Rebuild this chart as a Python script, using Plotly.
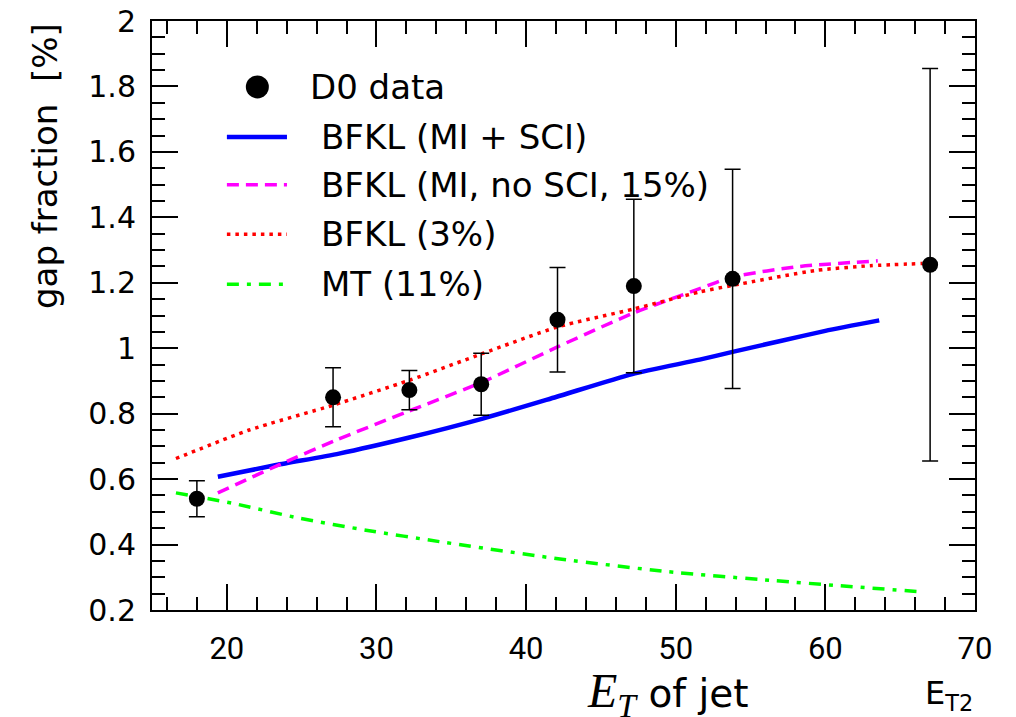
import plotly.graph_objects as go

# D0 data points: jet E_T, gap fraction [%], error
et_data = [18.0, 27.1, 32.2, 37.0, 42.1, 47.2, 53.8, 67.0]
gap_data = [0.54, 0.85, 0.872, 0.89, 1.087, 1.19, 1.212, 1.255]
gap_err = [0.055, 0.09, 0.06, 0.095, 0.16, 0.265, 0.335, 0.60]

# BFKL (MI + SCI)
bfkl_sci_x = [19.4, 23.3, 27.5, 32.2, 37.1, 42.0, 47.1, 51.6, 53.8, 57.0, 60.0, 63.6]
bfkl_sci_y = [0.607, 0.643, 0.678, 0.727, 0.785, 0.851, 0.921, 0.965, 0.989, 1.022, 1.053, 1.085]

# BFKL (MI, no SCI, 15%)
bfkl_nosci_x = [19.4, 23.7, 27.3, 32.0, 37.1, 42.1, 47.2, 51.6, 53.8, 58.3, 63.5]
bfkl_nosci_y = [0.558, 0.648, 0.719, 0.805, 0.897, 1.004, 1.108, 1.182, 1.218, 1.25, 1.267]

# BFKL (3%)
bfkl3_x = [16.6, 21.5, 27.1, 32.2, 37.1, 42.1, 47.2, 51.6, 53.8, 59.4, 63.0, 66.5]
bfkl3_y = [0.663, 0.75, 0.826, 0.902, 0.984, 1.065, 1.12, 1.172, 1.192, 1.238, 1.252, 1.259]

# MT (11%)
mt_x = [16.6, 20.4, 24.9, 29.3, 34.2, 42.4, 49.5, 56.5, 61.0, 66.3]
mt_y = [0.558, 0.526, 0.48, 0.444, 0.409, 0.355, 0.317, 0.29, 0.274, 0.256]

legend_labels = ["D0 data", "BFKL (MI + SCI)", "BFKL (MI, no SCI, 15%)", "BFKL (3%)", "MT (11%)"]

FONT = "DejaVu Sans"

blue = dict(color="#0000ff", width=4.5)
magenta = dict(color="#ff00ff", width=3.5, dash="12px,7px")
red = dict(color="#ff0000", width=3.5, dash="3.5px,5px")
green = dict(color="#00ff00", width=3.5, dash="12px,8px,4px,8px")

fig = go.Figure()

for xs, ys, ln in [(bfkl_sci_x, bfkl_sci_y, blue), (bfkl_nosci_x, bfkl_nosci_y, magenta),
                   (bfkl3_x, bfkl3_y, red), (mt_x, mt_y, green)]:
    fig.add_trace(go.Scatter(x=xs, y=ys, mode="lines", line=dict(shape="spline", smoothing=0.6, **ln),
                             showlegend=False, hoverinfo="skip"))

fig.add_trace(go.Scatter(
    x=et_data, y=gap_data, mode="markers",
    marker=dict(color="black", size=16),
    error_y=dict(type="data", array=gap_err, color="black", thickness=1.5, width=8),
    showlegend=False))

# hand-made legend on an overlaid unit axis
leg_rows = [0.888, 0.803, 0.722, 0.638, 0.553]
fig.add_trace(go.Scatter(x=[0.128], y=[leg_rows[0]], mode="markers", marker=dict(color="black", size=23),
                         xaxis="x2", yaxis="y2", showlegend=False, hoverinfo="skip"))
for row, ln in zip(leg_rows[1:], [blue, magenta, red, green]):
    fig.add_trace(go.Scatter(x=[0.091, 0.164], y=[row, row], mode="lines", line=ln,
                             xaxis="x2", yaxis="y2", showlegend=False, hoverinfo="skip"))

annotations = []
for i, (row, lab) in enumerate(zip(leg_rows, legend_labels)):
    annotations.append(dict(x=0.190 if i == 0 else 0.203, y=row, xref="paper", yref="paper",
                            text=lab, showarrow=False, xanchor="left", yanchor="middle",
                            font=dict(family=FONT, size=34, color="black")))

annotations.append(dict(x=-0.13, y=1.0, xref="paper", yref="paper", text="gap fraction  [%]",
                        textangle=-90, showarrow=False, xanchor="center", yanchor="top",
                        font=dict(family=FONT, size=34, color="black")))
annotations.append(dict(x=0.728, y=-0.142, xref="paper", yref="paper",
                        text="<span style='font-family:Liberation Serif;font-size:48px'><i>E<sub>T</sub></i></span> of jet",
                        showarrow=False, xanchor="right", yanchor="middle",
                        font=dict(family=FONT, size=39, color="black")))
annotations.append(dict(x=1.0, y=-0.145, xref="paper", yref="paper", text="E<sub>T2</sub>",
                        showarrow=False, xanchor="right", yanchor="middle",
                        font=dict(family=FONT, size=32, color="black")))

axis_common = dict(showline=True, linecolor="black", linewidth=2, mirror="allticks",
                   ticks="inside", tickcolor="black", tickwidth=1.5, ticklen=26,
                   showgrid=False, zeroline=False, automargin=False, ticklabeloverflow="allow")

# the page body adds an 8px offset, so the figure is shrunk to compensate
fig.update_layout(
    width=1008, height=709,
    margin=dict(l=144, r=41, t=13, b=107),
    paper_bgcolor="white", plot_bgcolor="white",
    showlegend=False,
    xaxis=dict(range=[15, 70], tickvals=[20, 30, 40, 50, 60, 70],
               minor=dict(dtick=2, tick0=0, ticks="inside", ticklen=13, tickwidth=1.5, tickcolor="black"),
               tickfont=dict(family="Roboto", size=31, color="black"), ticklabelstandoff=10,
               **axis_common),
    yaxis=dict(range=[0.2, 2.0], tickvals=[0.2, 0.4, 0.6, 0.8, 1.0, 1.2, 1.4, 1.6, 1.8, 2.0],
               ticktext=["0.2", "0.4", "0.6", "0.8", "1", "1.2", "1.4", "1.6", "1.8", "2"],
               minor=dict(dtick=0.05, tick0=0, ticks="inside", ticklen=13, tickwidth=1.5, tickcolor="black"),
               tickfont=dict(family=FONT, size=30, color="black"), ticklabelstandoff=8,
               **axis_common),
    xaxis2=dict(range=[0, 1], overlaying="x", visible=False, fixedrange=True),
    yaxis2=dict(range=[0, 1], overlaying="y", visible=False, fixedrange=True),
    annotations=annotations,
)

fig.write_html("out.html")
